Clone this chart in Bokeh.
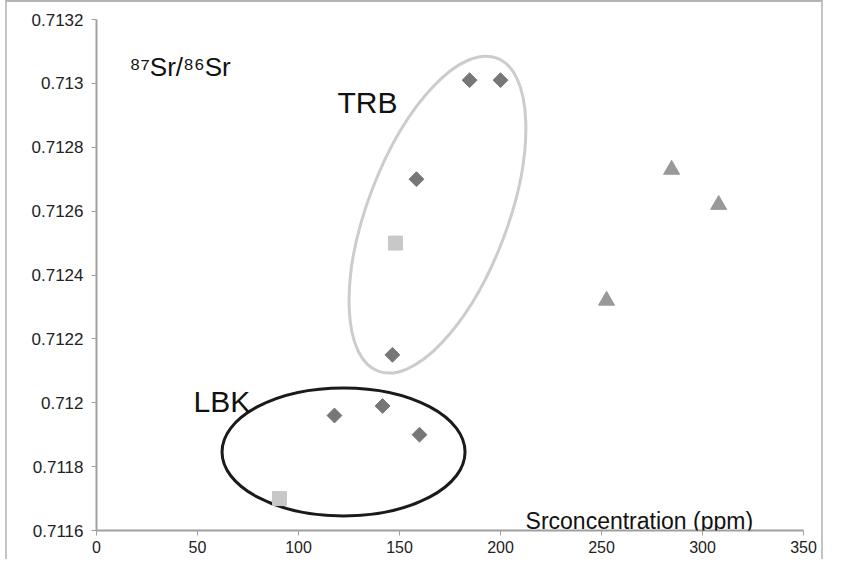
import numpy as np
from bokeh.plotting import figure
from bokeh.models import FixedTicker, Label
from bokeh.embed import file_html
from bokeh.resources import INLINE

# data
trb_x = [184.7, 200.0, 158.4, 146.5]
trb_y = [0.71301, 0.71301, 0.71270, 0.71215]
lbk_x = [117.8, 141.6, 159.9]
lbk_y = [0.71196, 0.71199, 0.71190]
sq_x = [148.0, 90.6]
sq_y = [0.71250, 0.71170]
tri_x = [284.7, 308.0, 252.5]
tri_y = [0.71273, 0.71262, 0.71232]

x_ticks = [0, 50, 100, 150, 200, 250, 300, 350]
y_tick_labels = ["0.7116", "0.7118", "0.712", "0.7122", "0.7124", "0.7126",
                 "0.7128", "0.713", "0.7132"]

# group ellipses (centre in data units)
trb_ell_x = [168.8]
trb_ell_y = [0.712589]
lbk_ell_x = [122.3]
lbk_ell_y = [0.711846]

FONT = "Liberation Sans"

p = figure(width=818, height=559, x_range=(0, 350), y_range=(0.7116, 0.7132),
           output_backend="svg", toolbar_location=None,
           min_border_left=89, min_border_top=17, min_border_right=22,
           min_border_bottom=31)
p.styles = {"margin-left": "5px",
            "border-left": "2px solid #c4c4c4",
            "border-top": "2px solid #b4b4b4",
            "border-right": "2px solid #c4c4c4"}
p.outline_line_color = None
p.grid.visible = False
p.background_fill_color = "white"
p.border_fill_color = "white"

p.xaxis.ticker = FixedTicker(ticks=x_ticks)
y_vals = [float(s) for s in y_tick_labels]
p.yaxis.ticker = FixedTicker(ticks=y_vals)
p.yaxis.major_label_overrides = {v: s for v, s in zip(y_vals, y_tick_labels)}

for ax in (p.xaxis[0], p.yaxis[0]):
    ax.axis_line_color = "#a0a0a0"
    ax.axis_line_width = 2
    ax.major_tick_line_color = "#a0a0a0"
    ax.major_tick_line_width = 1
    ax.major_tick_in = 0
    ax.minor_tick_line_color = None
    ax.major_label_text_font = FONT
    ax.major_label_text_color = "#222222"
p.yaxis.major_label_text_font_size = "17px"
p.xaxis.major_label_text_font_size = "16px"
p.xaxis.major_tick_out = 5
p.yaxis.major_tick_out = 5
p.xaxis.major_label_standoff = 5
p.yaxis.major_label_standoff = 8

# ellipses
p.ellipse(x=trb_ell_x, y=trb_ell_y, width=140, height=335, angle=-0.363,
          width_units="screen", height_units="screen",
          fill_color=None, line_color="#cccccc", line_width=3)
p.ellipse(x=lbk_ell_x, y=lbk_ell_y, width=243, height=128,
          width_units="screen", height_units="screen",
          fill_color=None, line_color="#1a1a1a", line_width=3)

# points
p.scatter(trb_x, trb_y, marker="square", angle=np.pi / 4, size=10.5,
          fill_color="#777777", line_color="#777777")
p.scatter(lbk_x, lbk_y, marker="square", angle=np.pi / 4, size=10.5,
          fill_color="#777777", line_color="#777777")
p.scatter(sq_x, sq_y, marker="square", size=14,
          fill_color="#c8c8c8", line_color="#c8c8c8")
p.scatter(tri_x, tri_y, marker="triangle", size=16,
          fill_color="#999999", line_color="#999999")

# texts
p.add_layout(Label(x=16.3, y=0.71305, text="⁸⁷Sr/⁸⁶Sr", text_font=FONT,
                   text_font_size="26px", text_color="#111111",
                   text_baseline="alphabetic"))
p.add_layout(Label(x=119.3, y=0.71294, text="TRB", text_font=FONT,
                   text_font_size="30px", text_color="#111111",
                   text_baseline="alphabetic"))
p.add_layout(Label(x=48.0, y=0.712005, text="LBK", text_font=FONT,
                   text_font_size="30px", text_color="#111111",
                   text_baseline="alphabetic"))
p.add_layout(Label(x=212.4, y=0.71163, text="Srconcentration (ppm)",
                   text_font=FONT, text_font_size="23px",
                   text_color="#111111", text_baseline="alphabetic"))

open("out.html", "w").write(file_html(p, INLINE))
